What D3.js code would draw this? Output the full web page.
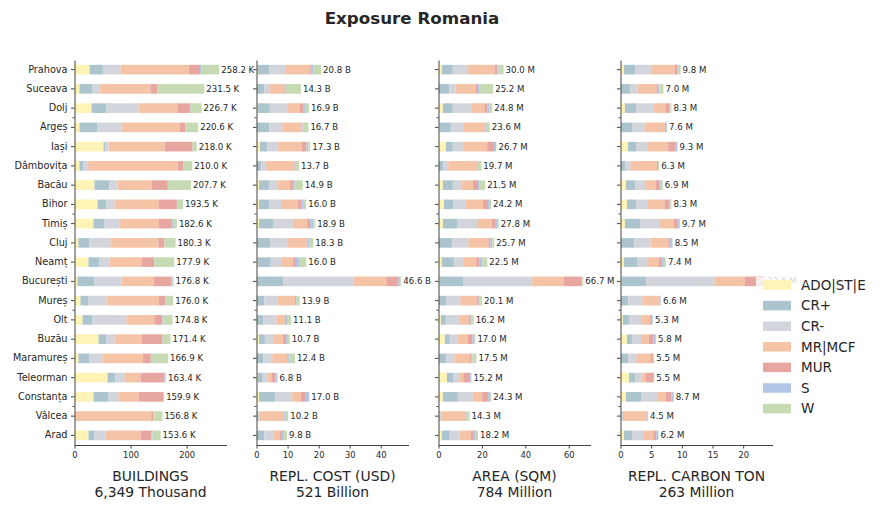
<!DOCTYPE html>
<html>
<head>
<meta charset="utf-8">
<script src="https://cdn.jsdelivr.net/npm/d3@7"></script>
<style>
  html, body { margin: 0; padding: 0; background: #fff; }
  svg { display: block; font-family: "DejaVu Sans", sans-serif; }
</style>
</head>
<body>
<svg id="chart" width="882" height="510"></svg>
<script>
// ---------- DATA ----------
const regions = ["Prahova","Suceava","Dolj","Argeș","Iași","Dâmbovița","Bacău","Bihor","Timiș","Cluj",
  "Neamț","București","Mureș","Olt","Buzău","Maramureș","Teleorman","Constanța","Vâlcea","Arad"];

const seriesNames = ["ADO|ST|E","CR+","CR-","MR|MCF","MUR","S","W"];
const seriesColors = ["#fff4b6","#abc4cd","#d3d5dc","#f5c3a5","#e8a6a0","#b1c5e6","#c6dab3"];

// values per region: [ADO|ST|E, CR+, CR-, MR|MCF, MUR, S, W]
const buildings = [ // thousand
  [26.8,23.8,31.5,122.0,19.6,2.4,32.1],
  [8.9,23.2,12.5,90.8,12.5,0.3,83.3],
  [30.4,26.8,57.1,69.1,23.2,0.5,19.6],
  [8.9,32.1,42.9,104.3,8.9,0.3,23.2],
  [51.8,3.6,5.4,99.8,50.0,0.3,7.1],
  [8.9,7.1,7.1,161.7,8.9,0.2,16.1],
  [35.7,26.8,14.3,60.9,28.6,0.3,41.1],
  [41.1,16.1,14.3,78.9,32.1,0.3,10.7],
  [33.9,19.6,26.8,70.2,23.2,1.8,7.1],
  [7.1,19.6,37.5,85.5,10.7,0.3,19.6],
  [25.0,19.6,17.9,58.0,21.4,0.3,35.7],
  [5.4,30.4,48.2,57.1,32.1,1.8,1.8],
  [10.7,14.3,32.1,93.6,10.7,0.3,14.3],
  [14.3,17.9,60.7,49.7,14.3,1.8,16.1],
  [42.9,14.3,14.3,47.8,37.5,0.3,14.3],
  [7.1,19.6,23.2,72.0,14.3,0.3,30.4],
  [58.9,14.3,16.1,28.4,42.9,1.8,1.0],
  [33.9,26.8,17.9,35.5,44.6,0.6,0.6],
  [0.6,0.5,0.8,134.9,3.6,0.3,16.1],
  [25.0,10.7,19.6,62.6,19.6,1.8,14.3]
];

const replCost = [ // billion USD
  [0.4,3.6,5.2,8.1,0.5,0.6,2.4],
  [0.1,2.4,1.6,4.7,0.3,0.3,4.9],
  [0.4,3.9,5.8,3.9,1.0,0.6,1.3],
  [0.1,4.0,4.2,6.2,0.3,0.3,1.6],
  [1.1,2.3,3.6,7.5,1.6,0.6,0.6],
  [0.1,1.4,1.6,8.9,0.3,0.1,1.3],
  [0.8,3.2,2.9,3.8,1.0,0.6,2.6],
  [0.8,3.2,3.9,5.5,1.0,0.6,1.0],
  [0.8,4.5,6.5,4.5,1.0,1.0,0.6],
  [0.1,4.3,5.5,6.2,0.3,0.6,1.3],
  [0.4,4.2,3.6,3.6,0.6,1.3,2.3],
  [0.1,8.5,22.7,10.5,3.9,0.6,0.3],
  [0.1,2.4,4.2,5.7,0.3,0.2,1.0],
  [0.1,2.1,4.2,2.8,0.3,0.3,1.3],
  [0.8,1.9,2.6,3.2,1.0,0.6,0.6],
  [0.1,2.1,2.9,4.8,0.3,0.3,1.9],
  [0.4,1.6,1.6,1.2,1.3,0.6,0.1],
  [0.8,5.2,5.5,2.8,1.3,1.3,0.1],
  [0.1,0.3,0.5,7.9,0.1,0.3,1.0],
  [0.1,2.4,2.9,2.2,0.6,0.6,1.0]
];

const area = [ // million sqm
  [1.5,5.1,6.9,12.3,1.4,0.5,2.3],
  [0.2,4.8,2.8,9.5,0.9,0.5,6.5],
  [2.0,4.6,8.8,5.7,1.4,0.9,1.4],
  [0.6,5.1,6.0,9.5,0.5,0.5,1.4],
  [3.4,3.2,4.6,11.2,3.2,0.9,0.2],
  [0.2,2.0,2.3,13.1,0.5,0.2,1.4],
  [2.0,4.6,4.2,5.1,2.3,0.5,2.8],
  [2.5,4.2,5.6,8.2,2.3,0.9,0.5],
  [2.0,6.5,9.3,6.7,1.9,0.9,0.5],
  [0.2,6.2,7.4,9.2,0.9,0.9,0.9],
  [1.5,5.6,4.6,5.7,1.4,1.4,2.3],
  [0.5,10.8,31.9,14.6,7.9,0.5,0.5],
  [0.2,3.4,6.5,7.5,0.9,0.2,1.4],
  [1.1,2.3,6.0,4.5,0.9,0.5,0.9],
  [2.9,2.3,3.7,4.4,2.3,0.9,0.5],
  [0.2,3.4,3.7,6.9,0.9,0.5,1.9],
  [3.9,2.8,2.8,1.9,3.2,0.5,0.1],
  [2.0,6.9,6.9,4.3,2.8,0.9,0.5],
  [0.1,0.3,0.8,11.5,0.2,0.5,0.9],
  [1.5,3.7,4.6,5.1,1.4,0.5,1.4]
];

const carbon = [ // million ton
  [0.55,1.81,2.63,3.83,0.49,0.16,0.33],
  [0.05,1.59,1.15,3.06,0.33,0.16,0.66],
  [0.71,1.81,2.96,1.84,0.66,0.16,0.16],
  [0.05,1.92,1.97,3.29,0.16,0.16,0.05],
  [1.21,1.32,1.81,3.43,1.15,0.33,0.05],
  [0.05,0.77,0.82,4.31,0.16,0.03,0.16],
  [0.88,1.48,1.64,1.75,0.66,0.16,0.33],
  [1.04,1.48,1.97,2.67,0.82,0.16,0.16],
  [0.71,2.47,3.29,2.19,0.66,0.33,0.05],
  [0.05,2.19,2.63,2.92,0.33,0.33,0.05],
  [0.55,2.14,1.81,1.75,0.49,0.33,0.33],
  [0.20,3.95,11.18,4.94,3.13,0.10,0.10],
  [0.05,1.21,2.30,2.67,0.16,0.16,0.05],
  [0.38,0.99,1.97,1.42,0.33,0.16,0.05],
  [1.04,0.82,1.48,1.26,0.82,0.33,0.05],
  [0.05,1.21,1.32,2.38,0.33,0.05,0.16],
  [1.37,0.99,1.15,0.65,1.15,0.16,0.03],
  [0.88,2.47,2.63,1.35,0.99,0.33,0.05],
  [0.03,0.10,0.28,3.83,0.05,0.16,0.05],
  [0.55,1.32,1.81,1.65,0.49,0.33,0.05]
];

const panelTitles = ["BUILDINGS","REPL. COST (USD)","AREA (SQM)","REPL. CARBON TON"];
const panelSubtitles = ["6,349 Thousand","521 Billion","784 Million","263 Million"];
const panelUnits = ["K","B","M","M"];
const panelTicks = [[0,100,200],[0,10,20,30,40],[0,20,40,60],[0,5,10,15,20]];
const chartTitle = "Exposure Romania";

// ---------- DRAW ----------
const panelsData = [buildings, replCost, area, carbon];
const svg = d3.select("#chart");
const textColor = "#262626";
const topY = 60, bottomY = 445, panelW = 152, panelStep = 182, firstX = 74.5;

svg.append("text")
  .attr("x", 412).attr("y", 24)
  .attr("text-anchor", "middle")
  .attr("font-size", "16.7px").attr("font-weight", "bold")
  .attr("fill", textColor)
  .text(chartTitle);

const y = d3.scaleBand().domain(regions).range([topY, bottomY])
  .paddingInner(0.5).paddingOuter(0.25);

panelsData.forEach((data, p) => {
  const g = svg.append("g").attr("transform", `translate(${firstX + p * panelStep},0)`);
  const rows = data.map((vals, i) => {
    let acc = 0;
    const segs = vals.map((v, k) => { const s = {k, x0: acc, x1: acc + v}; acc += v; return s; });
    return {region: regions[i], segs, total: acc};
  });
  const maxTotal = d3.max(rows, r => r.total);
  const x = d3.scaleLinear().domain([0, maxTotal * 1.05]).range([0, panelW]);

  const rowG = g.selectAll("g.row").data(rows).join("g").attr("class", "row")
    .attr("transform", d => `translate(0,${y(d.region)})`);
  rowG.selectAll("rect").data(d => d.segs).join("rect")
    .attr("x", d => x(d.x0))
    .attr("width", d => Math.max(0, x(d.x1) - x(d.x0)))
    .attr("y", 0).attr("height", y.bandwidth())
    .attr("fill", d => seriesColors[d.k]);
  rowG.append("text")
    .attr("x", d => x(d.total) + 2)
    .attr("y", y.bandwidth() / 2)
    .attr("dy", "0.35em")
    .attr("font-size", "8.6px")
    .attr("fill", textColor)
    .text(d => d.total.toFixed(1) + " " + panelUnits[p]);

  // y axis
  const yAxis = d3.axisLeft(y).tickSize(3.5).tickPadding(3.5).tickSizeOuter(0);
  if (p > 0) yAxis.tickFormat("");
  const yg = g.append("g").call(yAxis);
  yg.select(".domain").attr("stroke", "#444");
  yg.selectAll(".tick line").attr("stroke", "#444");
  yg.selectAll(".tick text").attr("font-size", "9.7px").attr("fill", textColor)
    .attr("font-family", "DejaVu Sans");

  // minor ticks between row groups
  [2, 7, 12, 17].forEach(i => {
    const my = y(regions[i]) + y.bandwidth() / 2 + y.step() / 2;
    g.append("line").attr("x1", -2).attr("x2", 0).attr("y1", my).attr("y2", my)
      .attr("stroke", "#444");
  });

  // x axis
  const xAxis = d3.axisBottom(x).tickValues(panelTicks[p]).tickSize(3.5).tickPadding(3.5)
    .tickSizeOuter(0).tickFormat(d3.format("d"));
  const xg = g.append("g").attr("transform", `translate(0,${bottomY})`).call(xAxis);
  xg.select(".domain").attr("stroke", "#444");
  xg.selectAll(".tick line").attr("stroke", "#444");
  xg.selectAll(".tick text").attr("font-size", "8.33px").attr("fill", textColor)
    .attr("font-family", "DejaVu Sans");

  g.append("text").attr("x", panelW / 2).attr("y", 481)
    .attr("text-anchor", "middle").attr("font-size", "13.9px").attr("fill", textColor)
    .text(panelTitles[p]);
  g.append("text").attr("x", panelW / 2).attr("y", 497)
    .attr("text-anchor", "middle").attr("font-size", "13.9px").attr("fill", textColor)
    .text(panelSubtitles[p]);
});

// legend
const lg = svg.append("g").attr("transform", "translate(756,277)");
lg.append("rect").attr("x", 0).attr("y", 0).attr("width", 124).attr("height", 145)
  .attr("fill", "#fff").attr("fill-opacity", 0.8);
const items = lg.selectAll("g.item").data(seriesNames).join("g").attr("class", "item")
  .attr("transform", (d, i) => `translate(7,${8 + i * 20.6})`);
items.append("rect").attr("width", 28).attr("height", 9.5).attr("y", -4.75)
  .attr("fill", (d, i) => seriesColors[i]);
items.append("text").attr("x", 38).attr("dy", "0.35em")
  .attr("font-size", "13.5px").attr("fill", textColor).text(d => d);
</script>
</body>
</html>
